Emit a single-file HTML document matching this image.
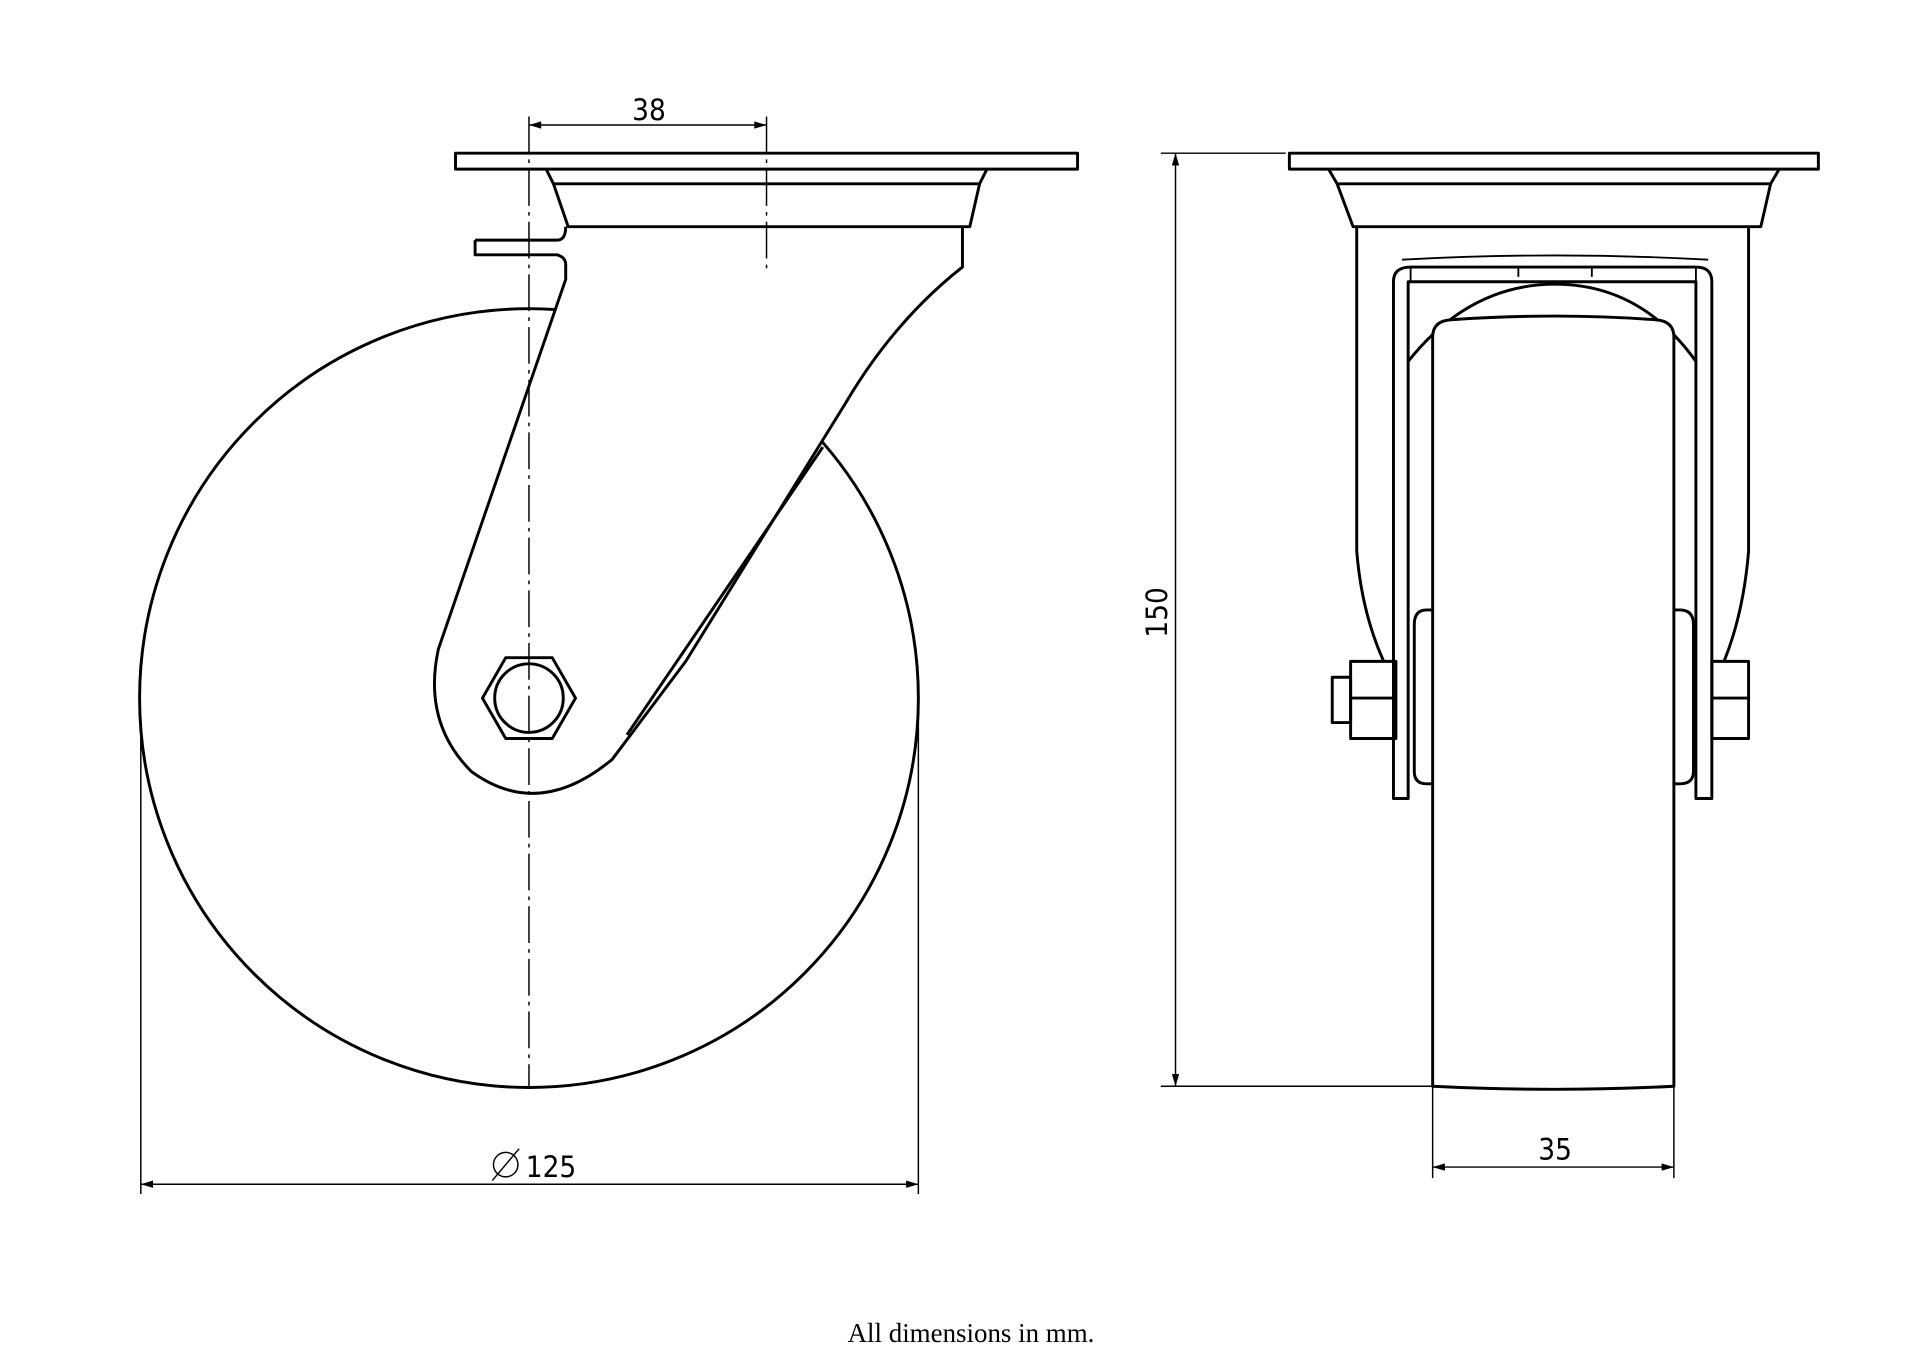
<!DOCTYPE html>
<html><head><meta charset="utf-8"><style>
html,body{margin:0;padding:0;background:#fff;}
svg{display:block}
</style></head><body>
<svg width="1920" height="1357" viewBox="0 0 1568 1108" xmlns="http://www.w3.org/2000/svg">
<defs>
<marker id="a" viewBox="0 0 10 6" refX="10" refY="3" markerWidth="14" markerHeight="6" markerUnits="userSpaceOnUse" orient="auto-start-reverse"><path d="M0,0 L10,3 L0,6 z" fill="#000"/></marker>
</defs>
<g fill="none" stroke="#000" stroke-width="2.4" stroke-linejoin="round">
<!-- LEFT VIEW -->
<circle cx="432" cy="570" r="318"/>
<path d="M462,213 L462,228 L356,530 Q340,600 390,635 Q450,665 500,620 L560,540 L690,330 Q730,262 786,218 L786,185 L462,185 Q462,198 455,200 L388,196 L388,208 L455,208 Q462,208 462,213 Z" fill="#fff" stroke="none"/>
<path d="M388,196 L455,196 Q462,196 462,185"/>
<path d="M388,196 L388,208 L455,208 Q462,210 462,216 L462,228 L358,530 Q345,590 385,630 Q440,670 500,620 L560,540 L690,330 Q730,262 786,218 L786,185"/>
<path d="M672,365 L512,600"/>
<rect x="372" y="125" width="508" height="13" fill="#fff"/>
<path d="M452,150 L464,185 L792,185 L800,150" fill="#fff"/>
<path d="M446,138 L452,150 L800,150 L806,138"/>
<polygon points="394,570 413,537 451,537 470,570 451,603 413,603" fill="#fff"/>
<circle cx="432" cy="570" r="28"/>
<!-- RIGHT VIEW -->
<rect x="1053" y="125" width="432" height="13" fill="#fff"/>
<path d="M1085,138 L1092,150 L1446,150 L1453,138"/>
<path d="M1092,150 L1105,185 L1438,185 L1446,150"/>
<path d="M1108,185 L1108,450 Q1112,500 1130,540"/>
<path d="M1428,185 L1428,450 Q1424,500 1408,540"/>
<path d="M1145,212 Q1270,205 1395,212" stroke-width="1.5"/>
<path d="M1138,652 L1138,230 Q1138,218 1152,218 L1385,218 Q1398,218 1398,230 L1398,652 L1385,652 L1385,230 L1150,230 L1150,652 Z"/>
<path d="M1152,218 L1152,230 M1385,218 L1385,230 M1240,218 L1240,226 M1300,218 L1300,226" stroke-width="1.5"/>
<path d="M1150,295 Q1200,232 1270,232 Q1340,232 1385,295"/>
<path d="M1170,887 L1170,275 Q1170,262 1185,261 Q1270,255 1352,261 Q1367,262 1367,275 L1367,887 Q1270,892 1170,887 Z" fill="#fff"/>
<path d="M1170,498 L1165,498 Q1155,498 1155,510 L1155,630 Q1155,640 1165,640 L1170,640"/>
<path d="M1367,498 L1372,498 Q1383,498 1383,510 L1383,630 Q1383,640 1372,640 L1367,640"/>
<rect x="1103" y="540" width="37" height="63"/>
<path d="M1103,570 L1140,570"/>
<rect x="1088" y="553" width="15" height="37"/>
<rect x="1398" y="540" width="30" height="63"/>
<path d="M1398,570 L1428,570"/>
</g>
<g stroke="#000" stroke-width="1.2" fill="none" stroke-dasharray="30,5,3,5">
<path d="M432,95 L432,888"/>
<path d="M626,95 L626,222"/>
</g>
<g stroke="#000" stroke-width="1.2" fill="none">
<path d="M432,102 L626,102" marker-start="url(#a)" marker-end="url(#a)"/>
<path d="M115,585 L115,975 M750,585 L750,975"/>
<path d="M115,967 L750,967" marker-start="url(#a)" marker-end="url(#a)"/>
<path d="M948,125 L1050,125 M948,887 L1170,887"/>
<path d="M960,125 L960,887" marker-start="url(#a)" marker-end="url(#a)"/>
<path d="M1170,887 L1170,962 M1367,887 L1367,962"/>
<path d="M1170,953 L1367,953" marker-start="url(#a)" marker-end="url(#a)"/>
<circle cx="413" cy="951" r="10"/>
<path d="M402,964 L424,938"/>
</g>
<g font-family="'DejaVu Sans Condensed','Liberation Sans',sans-serif" font-size="24" fill="#000" text-anchor="middle">
<text x="530" y="98">38</text>
<text x="450" y="961">125</text>
<text x="1270" y="947">35</text>
<text transform="translate(953,500) rotate(-90)">150</text>
</g>
<text x="793" y="1096" font-family="'Liberation Serif',serif" font-size="22" text-anchor="middle" fill="#000">All dimensions in mm.</text>
</svg>
</body></html>
